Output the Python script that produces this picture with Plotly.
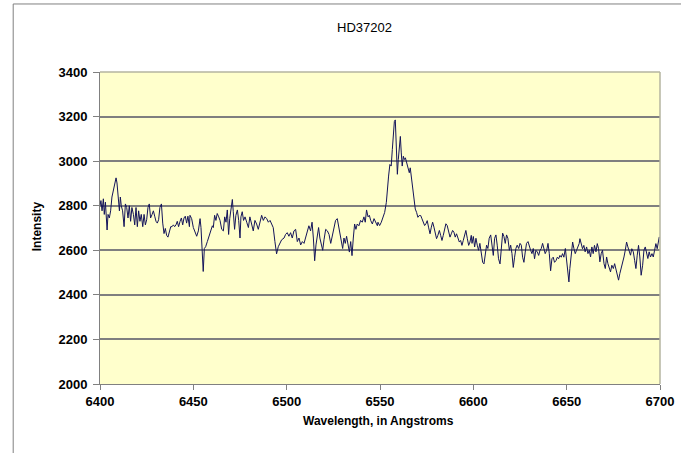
import plotly.graph_objects as go

# Spectrum of HD37202 around H-alpha
wavelength = [
    6400.0, 6400.5, 6401.1, 6401.8, 6402.3, 6402.9, 6403.8, 6404.3, 6405.0, 6405.7,
    6406.4, 6407.1, 6407.9, 6408.6, 6409.1, 6409.6, 6410.4, 6410.9, 6411.4, 6412.1,
    6412.9, 6413.6, 6414.3, 6415.0, 6415.7, 6416.4, 6417.1, 6417.9, 6418.6, 6419.3,
    6420.0, 6420.7, 6421.4, 6422.1, 6422.9, 6423.6, 6424.3, 6425.0, 6425.7, 6426.4,
    6427.1, 6427.9, 6428.6, 6429.3, 6430.0, 6430.7, 6431.4, 6432.1, 6432.9, 6433.6,
    6434.3, 6435.0, 6435.7, 6436.4, 6437.1, 6437.9, 6438.6, 6439.3, 6440.0, 6440.7,
    6441.4, 6442.1, 6442.9, 6443.6, 6444.3, 6445.0, 6445.7, 6446.4, 6447.1, 6447.9,
    6448.2, 6449.1, 6450.0, 6450.9, 6451.8, 6452.7, 6453.6, 6454.1, 6454.6, 6455.3,
    6455.9, 6456.6, 6457.5, 6458.6, 6459.5, 6460.2, 6460.7, 6461.4, 6462.1, 6462.8,
    6463.6, 6464.3, 6465.2, 6466.1, 6466.8, 6467.5, 6468.2, 6468.9, 6469.5, 6470.2,
    6470.9, 6471.4, 6472.1, 6472.8, 6473.6, 6474.3, 6475.0, 6475.5, 6476.2, 6476.9,
    6477.7, 6478.6, 6479.5, 6480.3, 6481.2, 6482.1, 6483.0, 6483.9, 6484.8, 6485.7,
    6486.6, 6487.5, 6488.4, 6489.3, 6490.2, 6491.1, 6491.9, 6492.8, 6493.7, 6494.6,
    6495.5, 6496.4, 6497.3,
    6498.6, 6499.4, 6500.3, 6501.2, 6502.1, 6503.0, 6503.9, 6504.8, 6505.7, 6506.6,
    6507.5, 6508.4, 6509.3, 6510.2, 6511.1, 6511.9, 6512.8, 6513.6, 6514.3, 6515.0,
    6515.7, 6516.4, 6517.1, 6517.8, 6518.6, 6519.3, 6520.0, 6520.9, 6521.8, 6522.7,
    6523.6, 6524.4, 6525.3, 6526.2, 6527.1, 6527.8, 6528.6, 6529.3, 6530.0, 6530.7,
    6531.4, 6532.1, 6532.8, 6533.6, 6534.3, 6535.0, 6535.7, 6536.4, 6537.1, 6537.8,
    6538.7, 6539.6, 6540.5, 6541.4, 6542.1, 6542.8, 6543.6, 6544.3, 6545.0, 6545.9,
    6546.8, 6547.7, 6548.6,
    6548.9, 6549.8, 6550.7, 6551.6, 6552.5, 6553.4, 6553.9, 6554.6, 6555.3, 6556.0,
    6556.6, 6557.1, 6557.7, 6558.2, 6558.7, 6559.3, 6559.8, 6560.3, 6560.9, 6561.4,
    6561.9, 6562.5, 6563.0, 6563.6, 6564.3, 6565.0, 6565.7, 6566.2, 6566.8, 6567.5,
    6568.2, 6568.9, 6569.6, 6570.3, 6571.0, 6571.8, 6572.5, 6573.2, 6573.9, 6574.6,
    6575.3, 6576.0, 6576.8, 6577.5, 6578.2, 6578.9, 6579.6, 6580.3, 6581.0, 6581.8,
    6582.5, 6583.2, 6583.9, 6584.6, 6585.3, 6586.0, 6586.8, 6587.5, 6588.2, 6588.9,
    6589.6, 6590.3, 6591.0, 6591.8, 6592.5, 6593.2, 6593.9, 6594.6, 6595.3, 6596.0,
    6596.8, 6597.5, 6598.2, 6598.9,
    6599.3, 6600.0, 6600.7, 6601.4, 6602.1, 6602.8, 6603.5, 6604.3, 6605.0, 6605.7,
    6606.4, 6607.1, 6607.8, 6608.5, 6609.3, 6610.0, 6610.7, 6611.4, 6612.1, 6612.8,
    6613.5, 6614.3, 6615.0, 6615.7, 6616.4, 6617.1, 6617.8, 6618.5, 6619.3, 6620.0,
    6620.7, 6621.4, 6622.1, 6622.8, 6623.5, 6624.3, 6625.0, 6625.7, 6626.4, 6627.1,
    6627.8, 6628.5, 6629.3, 6630.0, 6630.7, 6631.4, 6632.1, 6632.8, 6633.5, 6634.3,
    6635.0, 6635.7, 6636.4, 6637.1, 6637.8, 6638.5, 6639.3, 6640.0, 6640.7, 6641.4,
    6642.1, 6642.8, 6643.5, 6644.3, 6645.0, 6645.7, 6646.4, 6647.1, 6647.8, 6648.5,
    6649.3,
    6649.6, 6650.1, 6650.7, 6651.2, 6651.7, 6652.5, 6653.2, 6653.9, 6654.6, 6655.3,
    6656.0, 6656.7, 6657.1, 6657.8, 6658.5, 6659.2, 6659.9, 6660.7, 6661.4, 6662.1,
    6662.8, 6663.5, 6664.2, 6664.9, 6665.7, 6666.4, 6667.1, 6667.8, 6668.5, 6669.2,
    6670.0, 6670.7, 6671.4, 6672.1, 6672.8, 6673.5, 6674.2, 6675.0, 6675.7, 6676.4,
    6677.1, 6677.8, 6678.5, 6679.2, 6679.9, 6680.7, 6681.4, 6682.1, 6682.8, 6683.5,
    6684.2, 6684.9, 6685.7, 6686.4, 6687.1, 6687.8, 6688.5, 6689.2, 6689.9, 6690.7,
    6691.4, 6692.1, 6692.8, 6693.5, 6694.2, 6694.9, 6695.7, 6696.4, 6697.1, 6697.8,
    6698.5, 6699.2, 6699.6,
]

intensity = [
    2800, 2823, 2777, 2831, 2761, 2816, 2691, 2761, 2745, 2777,
    2839, 2870, 2894, 2925, 2902, 2839, 2777, 2839, 2800, 2777,
    2706, 2808, 2792, 2745, 2800, 2730, 2792, 2761, 2714, 2792,
    2706, 2777, 2730, 2761, 2706, 2761, 2714, 2737, 2792, 2808,
    2745, 2761, 2777, 2753, 2730, 2722, 2737, 2792, 2808, 2722,
    2675, 2698, 2667, 2659, 2683, 2706, 2706, 2714, 2706, 2714,
    2730, 2706, 2730, 2745, 2714, 2745, 2753, 2722, 2753, 2706,
    2757, 2742, 2702, 2679, 2663, 2687, 2742, 2702, 2592, 2505,
    2608, 2616, 2639, 2671, 2687, 2710, 2702, 2757, 2734, 2765,
    2750, 2734, 2694, 2687, 2750, 2726, 2781, 2671, 2742, 2789,
    2828, 2773, 2694, 2757, 2781, 2734, 2655, 2750, 2773, 2734,
    2750, 2726, 2702, 2750, 2718, 2687, 2734, 2718, 2694, 2734,
    2757, 2734, 2750, 2742, 2726, 2734, 2718, 2702, 2639, 2584,
    2616, 2631, 2647,
    2655, 2671, 2679, 2663, 2679, 2655, 2687, 2694, 2639, 2655,
    2624, 2639, 2631, 2655, 2687, 2710, 2687, 2726, 2655, 2553,
    2624, 2663, 2702, 2655, 2631, 2600, 2647, 2694, 2687, 2671,
    2631, 2663, 2710, 2734, 2742, 2710, 2671, 2639, 2608, 2655,
    2631, 2663, 2624, 2592, 2639, 2576, 2655, 2718, 2694, 2718,
    2710, 2734, 2726, 2750, 2726, 2781, 2750, 2757, 2734, 2718,
    2742, 2726, 2710,
    2726, 2711, 2726, 2748, 2770, 2815, 2874, 2933, 2985, 2978,
    3052, 3141, 3178, 3185, 3082, 2941, 3007, 3074, 3111, 3037,
    2978, 3022, 3007, 3015, 2993, 2978, 2948, 2970, 2933, 2874,
    2822, 2785, 2770, 2748, 2756, 2756, 2741, 2726, 2711, 2719,
    2733, 2704, 2674, 2704, 2726, 2704, 2674, 2652, 2667, 2689,
    2667, 2644, 2667, 2696, 2719, 2711, 2681, 2659, 2674, 2689,
    2681, 2659, 2674, 2652, 2637, 2644, 2622, 2644, 2674, 2689,
    2652, 2622, 2637, 2667,
    2631, 2662, 2615, 2654, 2623, 2600, 2631, 2577, 2546, 2539,
    2585, 2623, 2608, 2654, 2669, 2615, 2577, 2654, 2669, 2623,
    2562, 2539, 2608, 2677, 2662, 2631, 2669, 2654, 2600, 2623,
    2585, 2523, 2569, 2608, 2623, 2608, 2631, 2623, 2569, 2546,
    2592, 2631, 2639, 2615, 2600, 2585, 2608, 2562, 2600, 2592,
    2577, 2600, 2608, 2631, 2600, 2585, 2600, 2631, 2585, 2508,
    2562, 2569, 2546, 2554, 2569, 2562, 2577, 2569, 2585, 2569,
    2608,
    2585, 2540, 2503, 2458, 2518, 2593, 2637, 2607, 2585, 2600,
    2615, 2630, 2652, 2622, 2607, 2622, 2593, 2615, 2585, 2600,
    2570, 2615, 2585, 2622, 2593, 2630, 2607, 2548, 2585, 2600,
    2540, 2518, 2570, 2540, 2518, 2503, 2533, 2518, 2540, 2510,
    2488, 2466, 2496, 2518, 2533, 2570, 2600, 2637, 2615, 2600,
    2578, 2607, 2593, 2555, 2518, 2578, 2622, 2570, 2488, 2533,
    2600, 2615, 2585, 2563, 2593, 2570, 2585, 2570, 2600, 2630,
    2607, 2645, 2660,
]

x_ticks = [6400, 6450, 6500, 6550, 6600, 6650, 6700]
y_ticks = [2000, 2200, 2400, 2600, 2800, 3000, 3200, 3400]

FONT = "Liberation Sans, Arial, sans-serif"

fig = go.Figure()
fig.add_trace(go.Scatter(
    x=wavelength, y=intensity, mode="lines",
    line=dict(color="#14145a", width=1),
    hoverinfo="x+y", showlegend=False,
))

fig.update_layout(
    width=681, height=453,
    margin=dict(l=100, r=21, t=72, b=69, autoexpand=False),
    paper_bgcolor="white",
    plot_bgcolor="#FFFFCC",
    font=dict(family=FONT, color="black"),
    xaxis=dict(
        range=[6400, 6700], tickvals=x_ticks, ticktext=[str(v) for v in x_ticks],
        showgrid=False, zeroline=False, automargin=False,
        showline=True, linecolor="#808080", linewidth=1,
        ticks="outside", ticklen=5, tickcolor="#808080", ticklabelstandoff=0,
        tickfont=dict(size=13, weight="bold"),
    ),
    yaxis=dict(
        range=[2000, 3400], tickvals=y_ticks, ticktext=[str(v) for v in y_ticks],
        showgrid=True, gridcolor="#7f7f7f", gridwidth=1.5, zeroline=False,
        automargin=False,
        showline=True, linecolor="#808080", linewidth=1,
        ticks="outside", ticklen=6, tickcolor="#808080", ticklabelstandoff=3,
        tickfont=dict(size=13, weight="bold"),
    ),
    annotations=[
        dict(text="HD37202", xref="paper", yref="paper", x=0.473, y=1.143,
             xanchor="center", yanchor="middle",
             showarrow=False, font=dict(size=13, family=FONT)),
        dict(text="<b>Wavelength, in Angstroms</b>", xref="paper", yref="paper",
             x=0.497, y=-0.12, xanchor="center", yanchor="middle",
             showarrow=False, font=dict(size=12, family=FONT)),
        dict(text="<b>Intensity</b>", xref="paper", yref="paper",
             x=-0.111, y=0.505, xanchor="center", yanchor="middle",
             textangle=-90, showarrow=False,
             font=dict(size=12, family=FONT)),
    ],
    shapes=[
        # chart frame
        dict(type="rect", xref="paper", yref="paper",
             x0=-0.155, y0=-0.4, x1=1.2, y1=1.218,
             line=dict(color="#808080", width=1), layer="below"),
        # light plot-area border on top and right
        dict(type="line", xref="paper", yref="paper", x0=0, x1=1, y0=1, y1=1,
             line=dict(color="#b4b4a0", width=1.5)),
        dict(type="line", xref="paper", yref="paper", x0=1, x1=1, y0=0, y1=1,
             line=dict(color="#b4b4a0", width=1.5)),
    ],
)

fig.write_html("out.html")
